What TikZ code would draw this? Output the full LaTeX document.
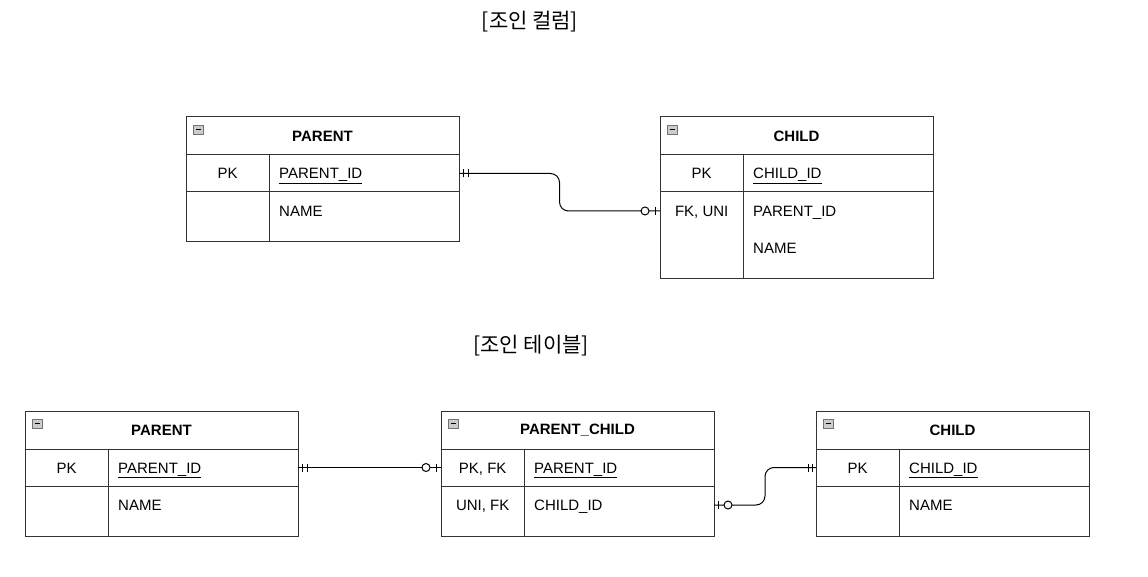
\documentclass[tikz,border=0pt]{standalone}
\usepackage{fontspec}
\setmainfont{Liberation Sans}
\newfontfamily\krfont{Noto Sans CJK KR}
\usetikzlibrary{positioning,calc,decorations.markings}

\tikzset{
	tbl/.style={draw=black!80, line width=1pt, minimum width=273pt, inner sep=0pt, outer sep=0pt},
	head/.style={tbl, minimum height=38pt, font=\fontsize{15}{18}\selectfont\bfseries},
	keytxt/.style={minimum width=83pt, inner sep=0pt, anchor=west, text height=12pt, text depth=1pt},
	fldtxt/.style={inner xsep=10pt, inner ysep=0pt, anchor=west, text height=12pt, text depth=1pt},
	title/.style={font=\krfont\fontsize{21}{25}\selectfont},
	icon/.style={draw=black!55, fill=black!20, line width=0.6pt},
	conn/.style={line width=1pt, rounded corners=9pt, postaction=decorate},
	oneToZeroOne/.style={decoration={markings,
		mark=at position 4pt with {\draw[line width=1pt] (0,-4pt)--(0,4pt);},
		mark=at position 9pt with {\draw[line width=1pt] (0,-4pt)--(0,4pt);},
		mark=at position -15pt with {\draw[line width=1pt, fill=white] (0,0) circle (4pt);},
		mark=at position -5pt with {\draw[line width=1pt] (0,-4pt)--(0,4pt);}}},
	zeroOneToOne/.style={decoration={markings,
		mark=at position 4pt with {\draw[line width=1pt] (0,-4pt)--(0,4pt);},
		mark=at position 14pt with {\draw[line width=1pt, fill=white] (0,0) circle (4pt);},
		mark=at position -8pt with {\draw[line width=1pt] (0,-4pt)--(0,4pt);},
		mark=at position -4pt with {\draw[line width=1pt] (0,-4pt)--(0,4pt);}}}
}

\begin{document}
\begin{tikzpicture}[x=1pt, y=-1pt, font=\fontsize{15}{18}\selectfont]
	\useasboundingbox (0,0) rectangle (1148,577);
	
	%join column
	\node[title] (t1) at (530,22) {[조인 컬럼]};
	
	\node[head] (pa-h) at (322.5,136) {PARENT};
	\node[tbl, minimum height=37pt, below=0pt of pa-h] (pa-1) {};
	\node[tbl, minimum height=50pt, below=0pt of pa-1] (pa-2) {};
	\node[keytxt] (paPk) at (pa-1.west) {PK};
	\node[fldtxt] (paId) at ($(pa-1.west)+(83,0)$) {\underline{PARENT\_ID}};
	\node[fldtxt] (paName) at ($(pa-2.north west)+(83,19)$) {NAME};
	
	\node[head] (ca-h) at (796.5,136) {CHILD};
	\node[tbl, minimum height=37pt, below=0pt of ca-h] (ca-1) {};
	\node[tbl, minimum height=87pt, below=0pt of ca-1] (ca-2) {};
	\node[keytxt] (caPk) at (ca-1.west) {PK};
	\node[fldtxt] (caId) at ($(ca-1.west)+(83,0)$) {\underline{CHILD\_ID}};
	\node[keytxt] (caFk) at ($(ca-2.north west)+(0,19)$) {FK, UNI};
	\node[fldtxt] (caParent) at ($(ca-2.north west)+(83,19)$) {PARENT\_ID};
	\node[fldtxt] (caName) at ($(ca-2.north west)+(83,56)$) {NAME};
	
	\draw[conn, oneToZeroOne] (pa-1.east) -| ($(pa-1.east)!0.5!(ca-2.west |- caFk)$) |- (ca-2.west |- caFk);
	
	%join table
	\node[title] (t2) at (531,346) {[조인 테이블]};
	
	\node[head] (pb-h) at (161.5,430) {PARENT};
	\node[tbl, minimum height=37pt, below=0pt of pb-h] (pb-1) {};
	\node[tbl, minimum height=50pt, below=0pt of pb-1] (pb-2) {};
	\node[keytxt] (pbPk) at (pb-1.west) {PK};
	\node[fldtxt] (pbId) at ($(pb-1.west)+(83,0)$) {\underline{PARENT\_ID}};
	\node[fldtxt] (pbName) at ($(pb-2.north west)+(83,19)$) {NAME};
	
	\node[head] (jb-h) at (577.5,430) {PARENT\_CHILD};
	\node[tbl, minimum height=37pt, below=0pt of jb-h] (jb-1) {};
	\node[tbl, minimum height=50pt, below=0pt of jb-1] (jb-2) {};
	\node[keytxt] (jbPk) at (jb-1.west) {PK, FK};
	\node[fldtxt] (jbParent) at ($(jb-1.west)+(83,0)$) {\underline{PARENT\_ID}};
	\node[keytxt] (jbUni) at ($(jb-2.north west)+(0,19)$) {UNI, FK};
	\node[fldtxt] (jbChild) at ($(jb-2.north west)+(83,19)$) {CHILD\_ID};
	
	\node[head] (cb-h) at (952.5,430) {CHILD};
	\node[tbl, minimum height=37pt, below=0pt of cb-h] (cb-1) {};
	\node[tbl, minimum height=50pt, below=0pt of cb-1] (cb-2) {};
	\node[keytxt] (cbPk) at (cb-1.west) {PK};
	\node[fldtxt] (cbId) at ($(cb-1.west)+(83,0)$) {\underline{CHILD\_ID}};
	\node[fldtxt] (cbName) at ($(cb-2.north west)+(83,19)$) {NAME};
	
	\draw[conn, oneToZeroOne] (pb-1.east) -- (jb-1.west);
	\draw[conn, zeroOneToOne] (jb-2.east |- jbChild) -| ($(jb-2.east |- jbChild)!0.5!(cb-1.west)$) |- (cb-1.west);
	
	%column lines and icons
	\foreach \t in {pa, ca, pb, jb, cb}{
		\draw[tbl] ($(\t-1.north west)+(83,0)$) -- ($(\t-2.south west)+(83,0)$);
		\draw[icon] ($(\t-h.north west)+(7,8)$) rectangle ++(10,9);
		\draw[line width=1pt] ($(\t-h.north west)+(9.5,12.5)$) -- ++(5,0);
	}
\end{tikzpicture}
\end{document}
